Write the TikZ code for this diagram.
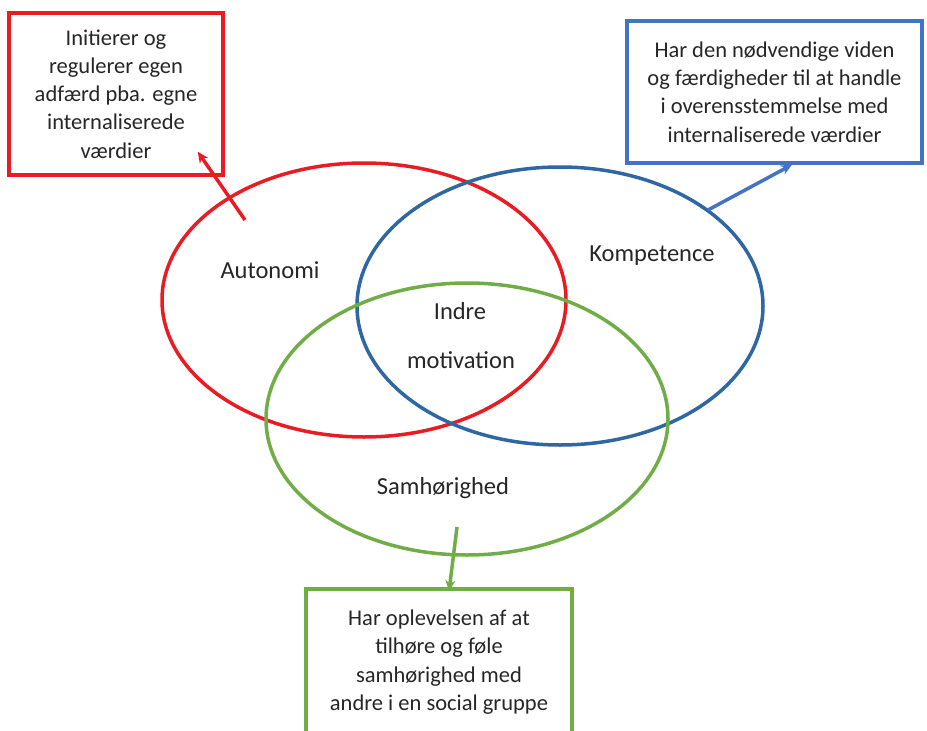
\documentclass[tikz,border=0pt]{standalone}
\usepackage{fontspec}
\setmainfont{Carlito}
\usetikzlibrary{arrows.meta, shapes, positioning}
\tikzset{>={Stealth[length=11pt, width=10pt]}}
\definecolor{autred}{RGB}{232,28,34}
\definecolor{kompblue}{RGB}{46,103,162}
\definecolor{boxblue}{RGB}{68,114,196}
\definecolor{samgreen}{RGB}{112,173,71}
\tikzset{
	oval/.style={ellipse, draw, line width=3.5pt, inner sep=0pt, minimum width=404pt, minimum height=274pt},
	infobox/.style={draw, line width=3.5pt, align=center, inner sep=0pt, text=black!85, font=\fontsize{22.5}{28.3}\selectfont},
	lbl/.style={text=black!85, font=\fontsize{24.5}{28}\selectfont},
	pil/.style={->, line width=3.5pt}
}

\begin{document}
\begin{tikzpicture}[x=1pt, y=-1pt]
			\useasboundingbox (0, 0) rectangle (927, 731);
			% de tre cirkler
			\node [oval, autred] (autonomi) at (364, 300) {};
			\node [oval, kompblue, minimum width=406pt, minimum height=278pt] (kompetence) at (560, 306) {};
			\node [oval, samgreen, minimum width=402pt, minimum height=272pt] (samhoer) at (467, 419) {};
			\node [lbl] (autlbl) at (270, 270) {Autonomi};
			\node [lbl] (komplbl) at (652, 256) {Kompetence};
			\node [lbl] (indre) at (460, 311) {Indre};
			\node [lbl] (motiv) at (461, 360) {motivation};
			\node [lbl] (samlbl) at (443, 488) {Samhørighed};
			% forklaringer
			\node [infobox, autred, minimum width=214pt, minimum height=162pt] (autbox) at (116, 94)
				{\color{black!85}Initierer og\\ \color{black!85}regulerer egen\\ \color{black!85}adfærd pba. egne\\ \color{black!85}internaliserede\\ \color{black!85}værdier};
			\node [infobox, boxblue, minimum width=295pt, minimum height=142pt] (kompbox) at (774.5, 92)
				{\color{black!85}Har den nødvendige viden\\ \color{black!85}og færdigheder til at handle\\ \color{black!85}i overensstemmelse med\\ \color{black!85}internaliserede værdier};
			\node [infobox, samgreen, minimum width=266pt, minimum height=146pt] (sambox) at (439, 662)
				{\color{black!85}Har oplevelsen af at\\ \color{black!85}tilhøre og føle\\ \color{black!85}samhørighed med\\ \color{black!85}andre i en social gruppe};
			\coordinate (auttail) at (245, 220);
			\coordinate (komptail) at (708, 210);
			\coordinate (samtail) at (457, 527);
			\draw [pil, autred] (auttail) -- ([shift={(-27, -25)}]autbox.south east);
			\draw [pil, boxblue] (komptail) -- ([xshift=17.5pt]kompbox.south);
			\draw [pil, samgreen] (samtail) -- ([xshift=10pt, yshift=-4pt]sambox.north);
		\end{tikzpicture}
\end{document}
